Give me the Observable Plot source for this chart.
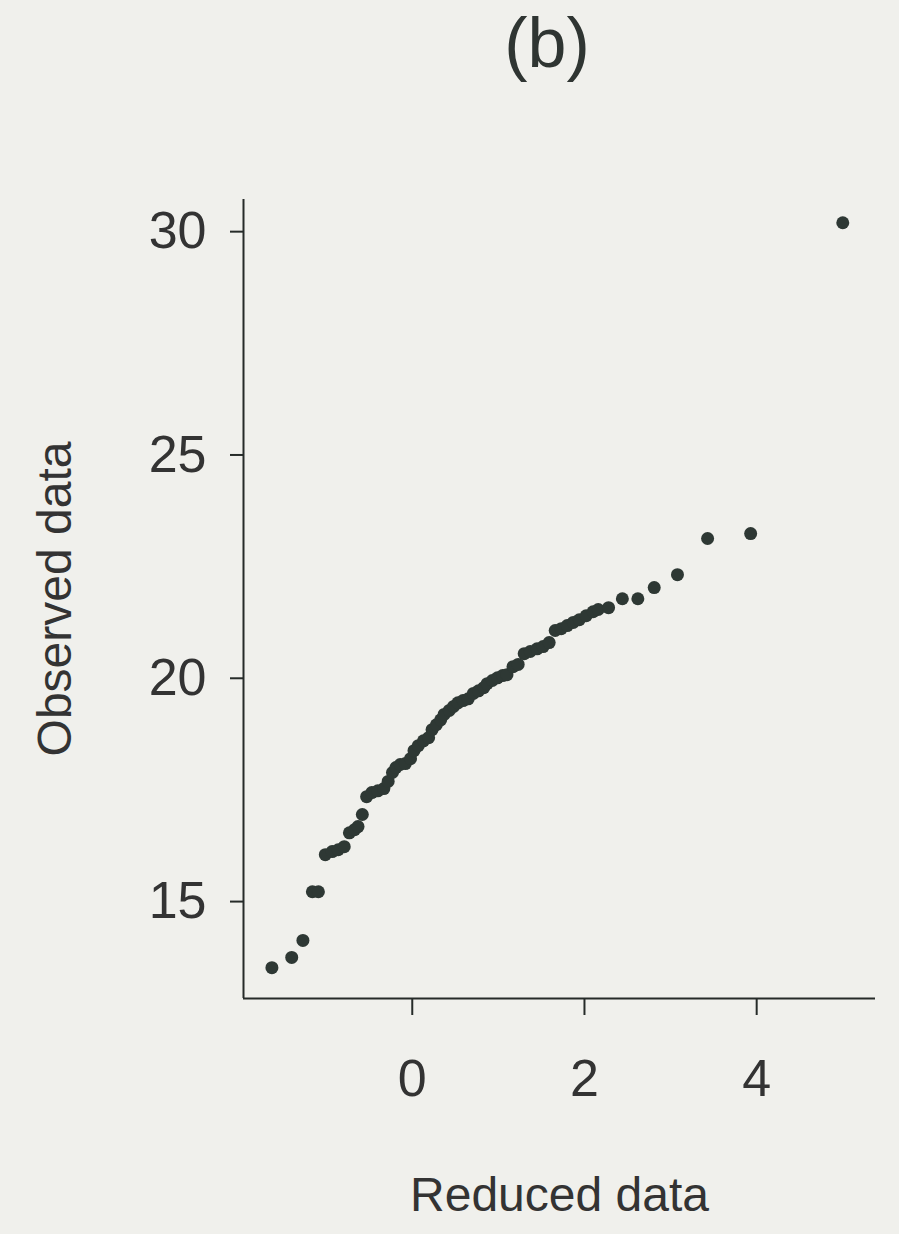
<!DOCTYPE html>
<html>
<head>
<meta charset="utf-8">
<script src="https://cdn.jsdelivr.net/npm/d3@7"></script>
<script src="https://cdn.jsdelivr.net/npm/@observablehq/plot@0.6"></script>
<style>
  html, body { margin: 0; padding: 0; background: #f0f0ec; }
  #wrap { width: 899px; height: 1234px; position: relative; overflow: hidden; }
  #title { position: relative; height: 90px; }
  #title span { position: absolute; left: 547px; top: 1px; transform: translateX(-50%);
    font-family: "Liberation Sans", Arial, sans-serif; font-size: 70px; line-height: 1.2; color: #2f3532; }
</style>
</head>
<body>
<div id="wrap">
  <div id="title"><span>(b)</span></div>
  <div id="chart"></div>
</div>
<script>
const reduced = [-1.63,-1.40,-1.27,-1.16,-1.09,-1.01,-0.93,-0.86,-0.79,-0.73,-0.67,-0.63,-0.58,-0.53,-0.47,-0.40,-0.33,-0.28,-0.23,-0.19,-0.14,-0.08,-0.02,0.02,0.07,0.13,0.19,0.23,0.28,0.33,0.37,0.43,0.48,0.53,0.59,0.65,0.71,0.77,0.83,0.87,0.93,0.99,1.05,1.10,1.17,1.23,1.30,1.37,1.45,1.52,1.59,1.66,1.73,1.80,1.87,1.94,2.02,2.10,2.16,2.28,2.44,2.62,2.81,3.08,3.43,3.93,5.00];
const observed = [13.52,13.75,14.13,15.22,15.22,16.05,16.12,16.16,16.23,16.54,16.61,16.68,16.95,17.35,17.44,17.48,17.53,17.69,17.89,18.00,18.07,18.09,18.20,18.38,18.49,18.60,18.67,18.85,18.96,19.07,19.19,19.28,19.37,19.45,19.50,19.54,19.66,19.72,19.79,19.88,19.95,20.01,20.06,20.08,20.26,20.31,20.55,20.60,20.66,20.71,20.80,21.07,21.11,21.18,21.25,21.31,21.40,21.49,21.54,21.58,21.78,21.78,22.03,22.32,23.13,23.24,30.20];
const xTicks = [0, 2, 4];
const yTicks = [15, 20, 25, 30];
const xDomain = [-1.96, 5.38];
const yDomain = [12.83, 30.72];

const data = reduced.map((x, i) => ({x, y: observed[i]}));

const ink = "#262b29";
const chart = Plot.plot({
  width: 899,
  height: 1144,
  marginTop: 109,
  marginBottom: 236,
  marginLeft: 243,
  marginRight: 24,
  x: {domain: xDomain},
  y: {domain: yDomain},
  style: {background: "transparent", fontFamily: "'Liberation Sans', Arial, sans-serif", color: "#333"},
  marks: [
    Plot.ruleX([xDomain[0]], {stroke: ink, strokeWidth: 2}),
    Plot.ruleY([yDomain[0]], {stroke: ink, strokeWidth: 2}),
    Plot.axisX({ticks: xTicks, tickSize: 17, tickPadding: 44, fontSize: 52, label: null, stroke: ink, strokeWidth: 2, fill: "#333"}),
    Plot.axisY({ticks: yTicks, tickSize: 13, tickPadding: 24, fontSize: 52, label: null, stroke: ink, strokeWidth: 2, fill: "#333"}),
    Plot.dot(data, {x: "x", y: "y", r: 6.5, fill: "#2e3834"}),
    Plot.text(["Reduced data"], {frameAnchor: "bottom", dy: 212, fontSize: 48, fill: "#333"}),
    Plot.text(["Observed data"], {frameAnchor: "left", textAnchor: "middle", dx: -188, rotate: -90, fontSize: 48, fill: "#333"})
  ]
});
document.getElementById("chart").appendChild(chart);
</script>
</body>
</html>
